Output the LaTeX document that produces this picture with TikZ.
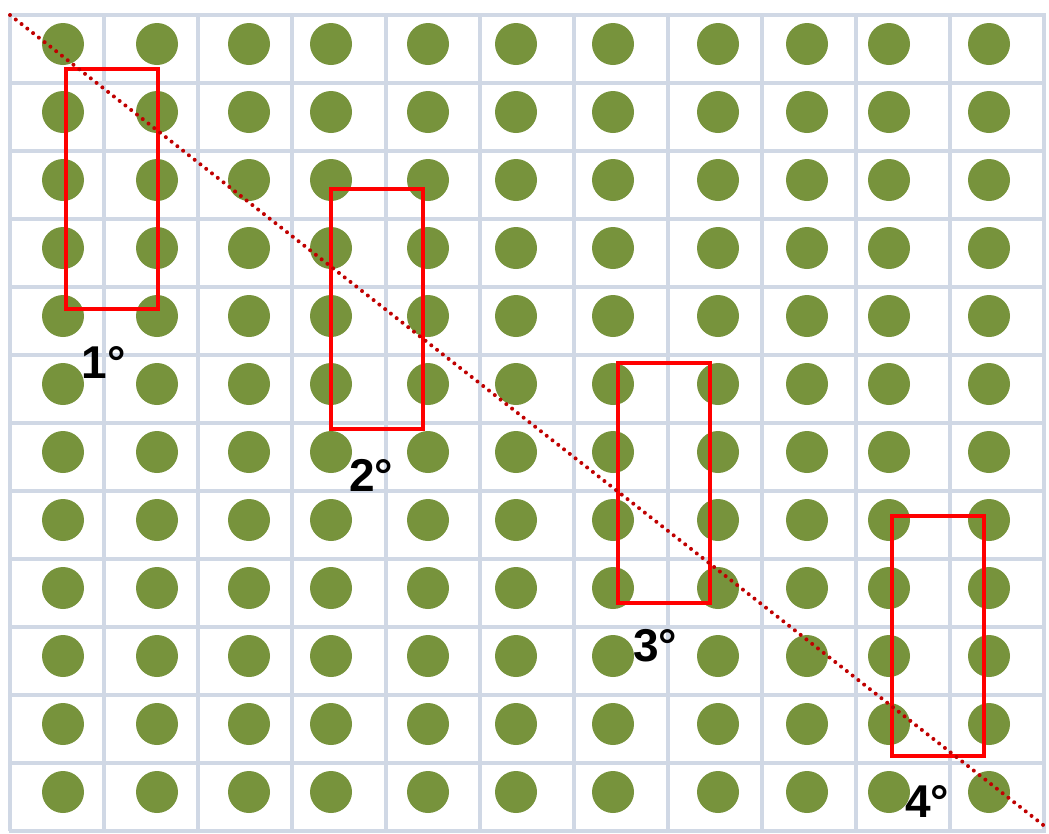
\documentclass[tikz,border=0pt]{standalone}
\usepackage{fontspec}
\setmainfont{Liberation Sans}
\usepackage{xcolor}
\usetikzlibrary{positioning}
\definecolor{leaf}{HTML}{77933C}
\definecolor{gridline}{HTML}{D0D8E5}
\definecolor{darkred}{HTML}{C00000}

\begin{document}
\begin{tikzpicture}[x=0.75pt,y=-0.75pt,
  dot/.style={circle,fill=leaf,minimum size=31.5pt,inner sep=0pt},
  frame/.style={draw=red,line width=2.3pt,minimum width=69pt,minimum height=180pt,inner sep=0pt},
  angle/.style={font=\fontsize{34.5}{40}\selectfont\bfseries,inner sep=0pt}]
\useasboundingbox (0,0) rectangle (1049,833);
% Grid
\foreach \i in {0,...,11}
  \draw[gridline,line width=3pt] (10+94*\i,15) -- (10+94*\i,831);
\foreach \j in {0,...,12}
  \draw[gridline,line width=3pt] (8.5,15+68*\j) -- (1045.5,15+68*\j);
% Plants
\foreach \x [count=\i] in {63,157,249,331,428,516,613,718,807,889,989}
  \foreach \j in {1,...,12}
    \node[dot] (p\i-\j) at (\x,44+68*\j-68) {};
% Windows
\node[frame] (w1) at (112,189) {};
\node[frame] (w2) at (377,309) {};
\node[frame] (w3) at (664,483) {};
\node[frame] (w4) at (938,636) {};
% Diagonal
\coordinate (start) at (10,15);
\coordinate (end) at (1047,828);
\draw[darkred,line width=3pt,line cap=round,dash pattern=on 0pt off 5.5pt] (start) -- (end);
\node[angle] (a1) at (103.5,362) {1°};
\node[angle] (a2) at (371,475) {2°};
\node[angle] (a3) at (655,646) {3°};
\node[angle] (a4) at (927,801) {4°};
\end{tikzpicture}
\end{document}
